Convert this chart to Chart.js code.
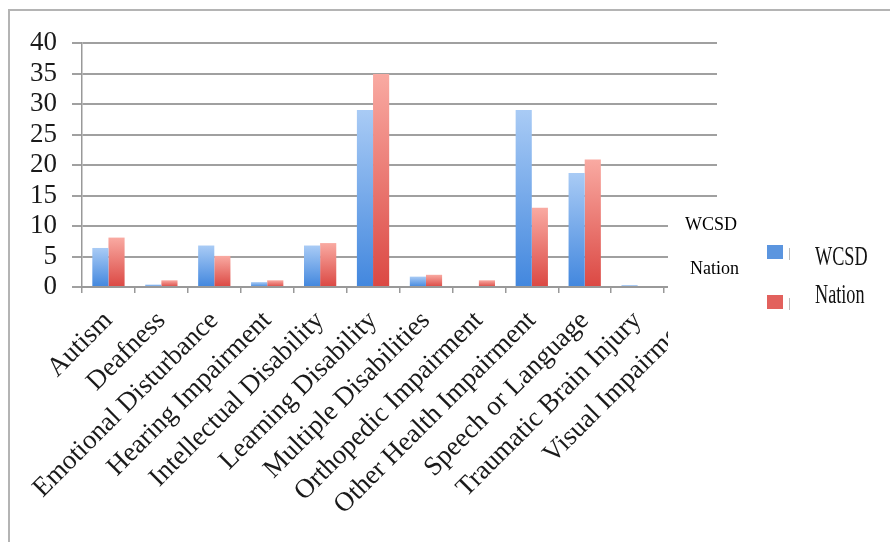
<!DOCTYPE html>
<html>
<head>
<meta charset="utf-8">
<script src="https://cdn.jsdelivr.net/npm/chart.js@4.4.1/dist/chart.umd.min.js"></script>
<style>
    html, body { margin: 0; padding: 0; background: #fff; }
    #wrap { position: relative; width: 890px; height: 542px; }
</style>
</head>
<body>
<div id="wrap"><canvas id="chart" width="890" height="542"></canvas></div>
<script>
; (() => {
    "use strict";

    const categories = [
        "Autism", "Deafness", "Emotional Disturbance", "Hearing Impairment",
        "Intellectual Disability", "Learning Disability", "Multiple Disabilities",
        "Orthopedic Impairment", "Other Health Impairment", "Speech or Language",
        "Traumatic Brain Injury", "Visual Impairment"
    ];
    const wcsd   = [6.4, 0.4, 6.8, 0.8, 6.8, 29.0, 1.7, 0, 29.0, 18.7, 0.3, 0.3];
    const nation = [8.1, 1.1, 5.1, 1.1, 7.2, 34.9, 2.0, 1.1, 13.0, 20.9, 0, 0.4];
    const yTicks = [0, 5, 10, 15, 20, 25, 30, 35, 40];

    const serif = "'Liberation Serif', 'Times New Roman', serif";
    Chart.defaults.font.family = serif;
    Chart.defaults.color = '#222';

    // vertical gradient over each bar, light top -> saturated bottom
    function barFill(light, dark) {
        return (c) => {
            const chart = c.chart;
            if (!chart.chartArea || c.parsed === undefined) return dark;
            const y = chart.scales.y;
            const top = y.getPixelForValue(c.parsed.y);
            const bottom = y.getPixelForValue(0);
            if (bottom - top < 1) return dark;
            const g = chart.ctx.createLinearGradient(0, top, 0, bottom);
            g.addColorStop(0, light);
            g.addColorStop(1, dark);
            return g;
        };
    }

    // the gray border round the picture (top and left only)
    const framePlugin = {
        id: 'frame',
        beforeDraw(chart) {
            const ctx = chart.ctx;
            ctx.save();
            ctx.strokeStyle = '#b4b4b4';
            ctx.lineWidth = 2;
            ctx.beginPath();
            ctx.moveTo(890, 10);
            ctx.lineTo(9, 10);
            ctx.lineTo(9, 542);
            ctx.stroke();
            ctx.restore();
        }
    };

    // white patch over the cut-off right edge, plus the two legends
    const legendPlugin = {
        id: 'pasteLegend',
        afterDraw(chart) {
            const ctx = chart.ctx;
            const ds = chart.data.datasets;
            ctx.save();
            ctx.fillStyle = '#fff';
            ctx.fillRect(668, 207, 222, 335);

            ctx.fillStyle = '#000';
            ctx.textBaseline = 'middle';
            ctx.font = "18px " + serif;
            ctx.fillText(ds[0].label, 685, 225);
            ctx.fillText(ds[1].label, 690, 269);

            // swatches
            ctx.fillStyle = '#5b95df';
            ctx.fillRect(767, 245, 16, 14);
            ctx.fillStyle = '#e2615d';
            ctx.fillRect(767, 295, 16, 14);
            ctx.strokeStyle = '#bbb';
            ctx.lineWidth = 1;
            ctx.beginPath();
            ctx.moveTo(789.5, 248); ctx.lineTo(789.5, 260);
            ctx.moveTo(789.5, 298); ctx.lineTo(789.5, 310);
            ctx.stroke();

            // tall narrow text
            ctx.fillStyle = '#111';
            ctx.font = "28px " + serif;
            [[ds[0].label, 258], [ds[1].label, 296]].forEach(([t, y]) => {
                ctx.save();
                ctx.translate(815, y);
                ctx.scale(0.65, 1);
                ctx.fillText(t, 0, 0);
                ctx.restore();
            });
            ctx.restore();
        }
    };

    new Chart(document.getElementById('chart'), {
        type: 'bar',
        data: {
            labels: categories,
            datasets: [{
                label: 'WCSD',
                data: wcsd,
                backgroundColor: barFill('#a9cbf5', '#4287de'),
                borderWidth: 0,
                barPercentage: 1,
                categoryPercentage: 0.61
            }, {
                label: 'Nation',
                data: nation,
                backgroundColor: barFill('#f9aaa2', '#db4843'),
                borderWidth: 0,
                barPercentage: 1,
                categoryPercentage: 0.61
            }]
        },
        options: {
            responsive: false,
            animation: false,
            devicePixelRatio: 1,
            layout: {
                padding: { left: 0, top: 43, right: 173, bottom: 0 }
            },
            plugins: {
                legend: { display: false },
                tooltip: { enabled: false }
            },
            scales: {
                x: {
                    afterFit: (s) => { s.height = 255; },
                    grid: {
                        drawOnChartArea: false,
                        drawTicks: true,
                        tickLength: 6,
                        color: '#999',
                        lineWidth: 1.5
                    },
                    border: { display: true, color: '#999', width: 2 },
                    ticks: {
                        autoSkip: false,
                        minRotation: 45,
                        maxRotation: 45,
                        padding: 12,
                        color: '#1a1a1a',
                        font: { size: 27 }
                    }
                },
                y: {
                    min: 0,
                    max: 40,
                    afterFit: (s) => { s.width = 82; },
                    afterBuildTicks: (s) => { s.ticks = yTicks.map(v => ({ value: v })); },
                    grid: {
                        color: '#a0a0a0',
                        lineWidth: 2,
                        tickLength: 10
                    },
                    border: { display: true, color: '#999', width: 1.5 },
                    ticks: {
                        autoSkip: false,
                        padding: 15,
                        color: '#1a1a1a',
                        font: { size: 27 }
                    }
                }
            }
        },
        plugins: [framePlugin, legendPlugin]
    });

})();
</script>
</body>
</html>
